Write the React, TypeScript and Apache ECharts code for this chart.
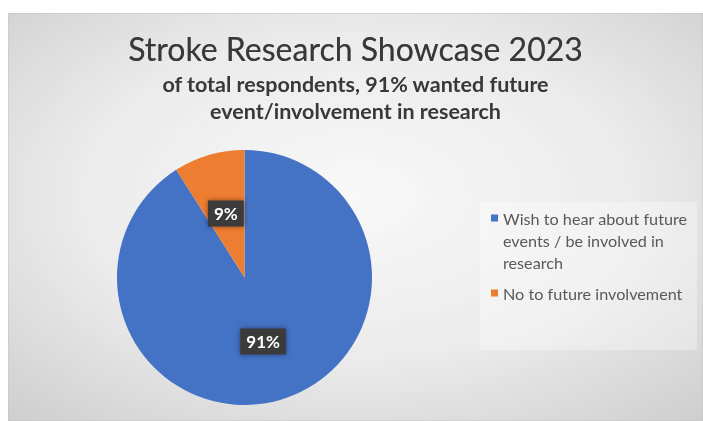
import React, { useEffect, useRef } from "react";
import * as echarts from "echarts";

const categories = [
  "Wish to hear about future events / be involved in research",
  "No to future involvement",
];
const values = [91, 9];
const colors = ["#4472C4", "#ED7D31"];
const legendLabels = [
  "Wish to hear about future\nevents / be involved in\nresearch",
  "No to future involvement",
];
const titleText = "Stroke Research Showcase 2023";
const subtitleLines = [
  "of total respondents, 91% wanted future",
  "event/involvement in research",
];

export default function App() {
  const ref = useRef<HTMLDivElement>(null);
  useEffect(() => {
    if (!ref.current) return;
    const chart = echarts.init(ref.current, undefined, { renderer: "svg" });
    const W = 695;
    const H = 408;
    const labelFor = (name: string) => legendLabels[categories.indexOf(name)];
    const tallIcon =
      "path://M0,7.5L7,7.5L7,14.5L0,14.5Z M0,0L0.01,0L0.01,0.01Z M0,66L0.01,66L0.01,65.99Z";
    chart.setOption({
      animation: false,
      title: {
        text: titleText,
        subtext: subtitleLines.join("\n"),
        left: "center",
        top: 17,
        padding: 0,
        itemGap: 4,
        textStyle: {
          fontFamily: "Lato",
          fontSize: 32,
          fontWeight: "normal",
          color: "#383838",
          lineHeight: 36,
          textShadowColor: "rgba(56,56,56,0.6)",
          textShadowBlur: 0.6,
        },
        subtextStyle: {
          fontFamily: "Lato",
          fontSize: 21.5,
          fontWeight: "bold",
          color: "#383838",
          lineHeight: 27,
          align: "center",
        },
      },
      graphic: [
        {
          type: "rect",
          z: -100,
          silent: true,
          shape: { x: 0, y: 0, width: W, height: H },
          style: {
            fill: new echarts.graphic.RadialGradient(0.5, 0.45, 1.0, [
              { offset: 0, color: "#f8f8f8" },
              { offset: 0.4, color: "#ebebeb" },
              { offset: 1, color: "#b8b8b8" },
            ]),
            stroke: "#c4c4c4",
            lineWidth: 1,
          },
        },
        {
          type: "rect",
          z: -50,
          silent: true,
          shape: { x: 472, y: 189, width: 217, height: 148 },
          style: { fill: "rgba(255,255,255,0.32)" },
        },
      ],
      legend: [
        {
          data: [categories[0]],
          orient: "vertical",
          left: 483,
          top: 194,
          padding: 0,
          icon: tallIcon,
          itemWidth: 7,
          itemHeight: 66,
          itemStyle: { borderWidth: 0 },
          formatter: labelFor,
          selectedMode: false,
          textStyle: {
            fontFamily: "Lato",
            fontSize: 16.2,
            color: "#595959",
            lineHeight: 22,
          },
        },
        {
          data: [categories[1]],
          orient: "vertical",
          left: 483,
          top: 269,
          padding: 0,
          icon: "rect",
          itemWidth: 7,
          itemHeight: 7,
          itemStyle: { borderWidth: 0 },
          formatter: labelFor,
          selectedMode: false,
          textStyle: {
            fontFamily: "Lato",
            fontSize: 16.2,
            color: "#595959",
            lineHeight: 22,
          },
        },
      ],
      series: [
        {
          type: "pie",
          center: [236.5, 264.5],
          radius: [0, 127.5],
          startAngle: 90,
          clockwise: true,
          silent: true,
          itemStyle: { borderWidth: 0 },
          label: {
            show: true,
            position: "inside",
            formatter: (p: any) => Math.round(p.percent) + "%",
            fontFamily: "Lato",
            fontSize: 17,
            fontWeight: "bold",
            color: "#ffffff",
            backgroundColor: "#3a3a3a",
            padding: [5, 6, 4, 6],
            shadowColor: "rgba(0,0,0,0.45)",
            shadowBlur: 5,
          },
          labelLine: { show: false },
          data: categories.map((name, i) => ({
            name,
            value: values[i],
            itemStyle: { color: colors[i] },
          })),
        },
      ],
    });
    return () => chart.dispose();
  }, []);
  return (
    <div
      ref={ref}
      style={{ position: "fixed", left: 8, top: 13, width: 695, height: 408 }}
    />
  );
}
